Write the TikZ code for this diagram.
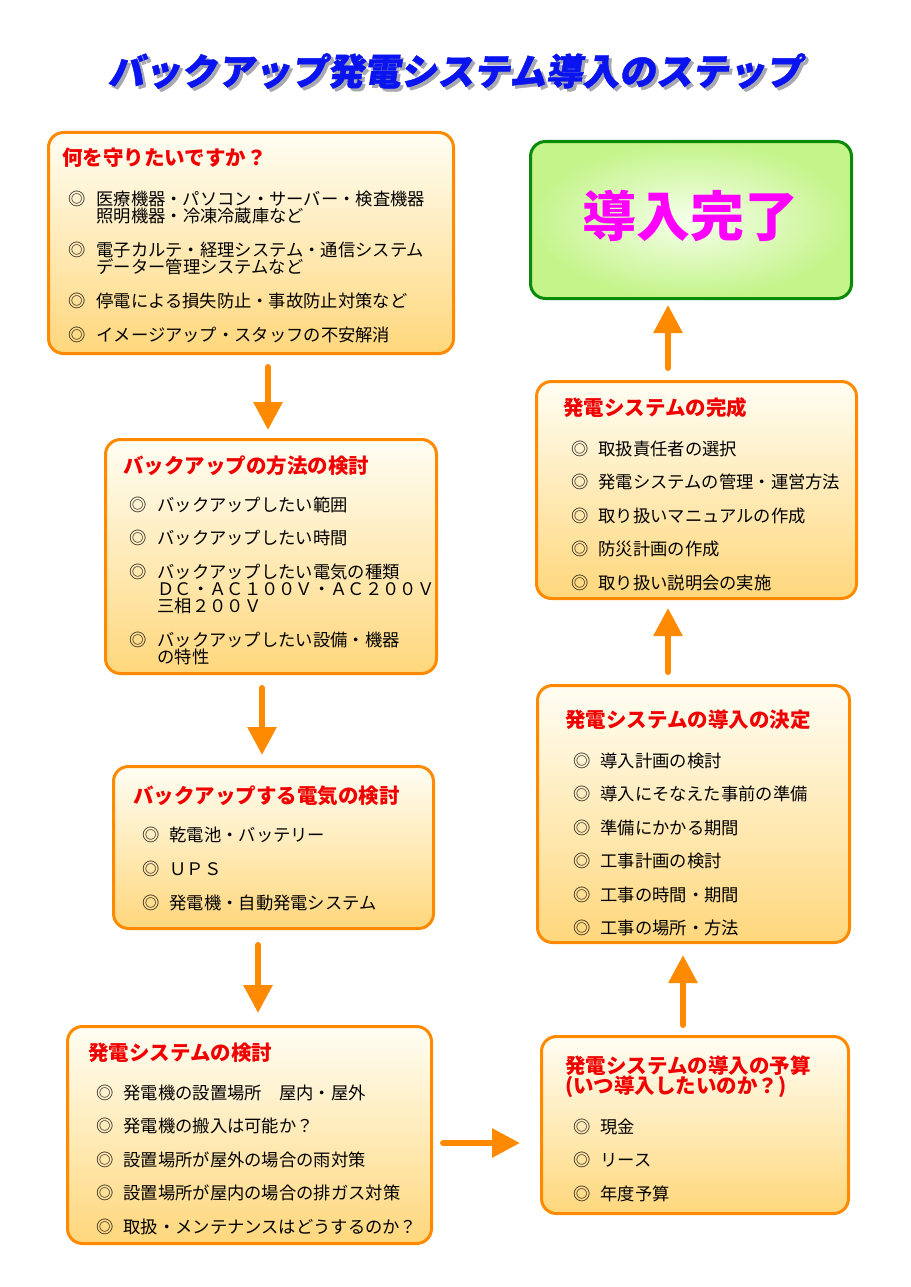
\documentclass[tikz,border=0pt]{standalone}
\usepackage{fontspec}
\setmainfont{Noto Sans CJK JP}
\newfontfamily\headfont[FakeSlant=0.15,FakeBold=1.2]{Noto Sans CJK JP}
\usepackage{xcolor}
\usepackage{array}
\usetikzlibrary{arrows.meta}
\definecolor{BUOrange}{HTML}{FF8A00}
\definecolor{BURed}{HTML}{F00000}
\definecolor{BUBlue}{HTML}{0A14F0}
\definecolor{BUShadow}{HTML}{A8A8B0}
\definecolor{BUCream}{HTML}{FFFEF4}
\definecolor{BUSand}{HTML}{FFD77C}
\definecolor{BUGreen}{HTML}{0A8A0A}
\definecolor{BULime}{HTML}{C4F48A}
\definecolor{BUPale}{HTML}{F6FFEC}
\definecolor{BUMagenta}{HTML}{FF00FF}
% flat cells: every row is exactly one baselineskip high
\newcolumntype{F}{>{\setbox0=\hbox\bgroup}l<{\egroup\ht0=0pt\dp0=0pt\box0}}

\tikzset{
  card/.style={draw=BUOrange,line width=3pt,rounded corners=15pt,top color=BUCream,bottom color=BUSand,inner sep=0pt},
  donecard/.style={draw=BUGreen,line width=3pt,rounded corners=15pt,inner color=BUPale,outer color=BULime,inner sep=0pt},
  cardhead/.style={anchor=base west,inner sep=0pt,text=BURed,font=\fontsize{20.5}{20}\selectfont\bfseries},
  cardlist/.style={anchor=base west,inner sep=0pt,font=\fontsize{17.3}{17}\selectfont},
  flow/.style={BUOrange,line width=6pt,line cap=round,-{Triangle[width=28pt,length=28pt]}},
}

\begin{document}
\begin{tikzpicture}[x=1pt,y=-1pt]
\path[use as bounding box] (0,0) rectangle (910,1287);
\fill[white] (0,0) rectangle (910,1287);
% heading
\node[inner sep=0pt,text=BUShadow,font=\headfont\fontsize{36.6}{37}\selectfont\bfseries] (titleshadow) at (458,74) {バックアップ発電システム導入のステップ};
\node[inner sep=0pt,text=BUBlue,font=\headfont\fontsize{36.6}{37}\selectfont\bfseries] (title) at (455,71) {バックアップ発電システム導入のステップ};

% left column
\node[card,minimum width=405,minimum height=221] (b1) at (251,243) {};
\node[cardhead] (b1head) at (62,165) {何を守りたいですか？};
\node[cardlist] (b1list) at (68,205) {\begin{tabular}[t]{@{}F@{\hspace{11pt}}F@{}}
◎ & 医療機器・パソコン・サーバー・検査機器\\ & 照明機器・冷凍冷蔵庫など\\[17pt]
◎ & 電子カルテ・経理システム・通信システム\\ & データー管理システムなど\\[17pt]
◎ & 停電による損失防止・事故防止対策など\\[17pt]
◎ & イメージアップ・スタッフの不安解消
\end{tabular}};

\node[card,minimum width=331,minimum height=234] (b2) at (271,556.5) {};
\node[cardhead] (b2head) at (123,473) {バックアップの方法の検討};
\node[cardlist] (b2list) at (129,511) {\begin{tabular}[t]{@{}F@{\hspace{11pt}}F@{}}
◎ & バックアップしたい範囲\\[16.5pt]
◎ & バックアップしたい時間\\[17pt]
◎ & バックアップしたい電気の種類\\ & ＤＣ・ＡＣ１００Ｖ・ＡＣ２００Ｖ\\ & 三相２００Ｖ\\[16.5pt]
◎ & バックアップしたい設備・機器\\ & の特性
\end{tabular}};

\node[card,minimum width=320,minimum height=162] (b3) at (273.5,847.5) {};
\node[cardhead] (b3head) at (133,803) {バックアップする電気の検討};
\node[cardlist] (b3list) at (142,841) {\begin{tabular}[t]{@{}F@{\hspace{10pt}}F@{}}
◎ & 乾電池・バッテリー\\[17pt]
◎ & ＵＰＳ\\[17pt]
◎ & 発電機・自動発電システム
\end{tabular}};

\node[card,minimum width=364,minimum height=217] (b4) at (249.5,1135) {};
\node[cardhead] (b4head) at (88,1060) {発電システムの検討};
\node[cardlist] (b4list) at (96,1099) {\begin{tabular}[t]{@{}F@{\hspace{10pt}}F@{}}
◎ & 発電機の設置場所　屋内・屋外\\[16.5pt]
◎ & 発電機の搬入は可能か？\\[16.5pt]
◎ & 設置場所が屋外の場合の雨対策\\[16.5pt]
◎ & 設置場所が屋内の場合の排ガス対策\\[16.5pt]
◎ & 取扱・メンテナンスはどうするのか？
\end{tabular}};

% right column
\node[card,minimum width=307,minimum height=177] (b5) at (695,1125) {};
\node[cardhead] (b5head) at (565,1073) {\begin{tabular}[t]{@{}F@{}}発電システムの導入の予算\\(いつ導入したいのか？)\end{tabular}};
\node[cardlist] (b5list) at (573,1133) {\begin{tabular}[t]{@{}F@{\hspace{10pt}}F@{}}
◎ & 現金\\[16.5pt]
◎ & リース\\[16.5pt]
◎ & 年度予算
\end{tabular}};

\node[card,minimum width=312,minimum height=257] (b6) at (693.5,814) {};
\node[cardhead] (b6head) at (565,727) {発電システムの導入の決定};
\node[cardlist] (b6list) at (573,767) {\begin{tabular}[t]{@{}F@{\hspace{10pt}}F@{}}
◎ & 導入計画の検討\\[16.5pt]
◎ & 導入にそなえた事前の準備\\[16.5pt]
◎ & 準備にかかる期間\\[16.5pt]
◎ & 工事計画の検討\\[16.5pt]
◎ & 工事の時間・期間\\[16.5pt]
◎ & 工事の場所・方法
\end{tabular}};

\node[card,minimum width=320,minimum height=217] (b7) at (696.5,490) {};
\node[cardhead] (b7head) at (563,415) {発電システムの完成};
\node[cardlist] (b7list) at (571,455) {\begin{tabular}[t]{@{}F@{\hspace{10pt}}F@{}}
◎ & 取扱責任者の選択\\[16.5pt]
◎ & 発電システムの管理・運営方法\\[16.5pt]
◎ & 取り扱いマニュアルの作成\\[16.5pt]
◎ & 防災計画の作成\\[16.5pt]
◎ & 取り扱い説明会の実施
\end{tabular}};

\node[donecard,minimum width=321,minimum height=157] (b8) at (691,220) {};
\node[inner sep=0pt,text=BUMagenta,font=\fontsize{54}{54}\selectfont\bfseries] (donetext) at (690,216) {導入完了};

% arrows
\draw[flow] ([xshift=17pt,yshift=-12pt]b1.south) -- ([xshift=-3pt,yshift=8pt]b2.north);
\draw[flow] ([xshift=-9pt,yshift=-13pt]b2.south) -- ([xshift=-11.5pt,yshift=10pt]b3.north);
\draw[flow] ([xshift=-15.5pt,yshift=-15pt]b3.south) -- ([xshift=8.5pt,yshift=12pt]b4.north);
\draw[flow] ([xshift=10pt,yshift=-8pt]b4.east) -- ([xshift=-20pt,yshift=-18pt]b5.west);
\draw[flow] ([xshift=-12pt,yshift=10pt]b5.north) -- ([xshift=-10.5pt,yshift=-11pt]b6.south);
\draw[flow] ([xshift=-25.5pt,yshift=12pt]b6.north) -- ([xshift=-28.5pt,yshift=-8pt]b7.south);
\draw[flow] ([xshift=-28.5pt,yshift=12pt]b7.north) -- ([xshift=-23pt,yshift=-5pt]b8.south);
\end{tikzpicture}
\end{document}
